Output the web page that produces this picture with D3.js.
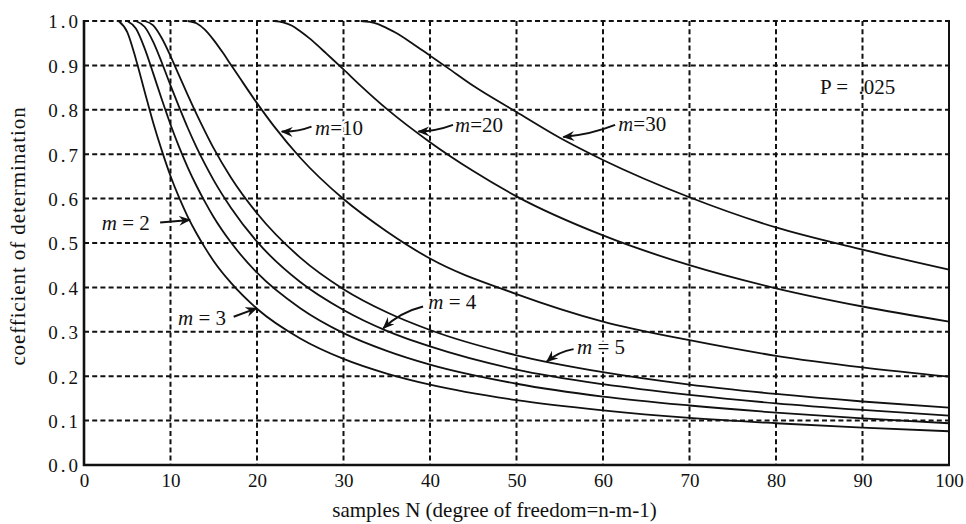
<!DOCTYPE html>
<html><head><meta charset="utf-8">
<script src="https://cdn.jsdelivr.net/npm/d3@7/dist/d3.min.js"></script>
<style>
html,body{margin:0;padding:0;background:#fff;}
svg{display:block;}
text{font-family:"Liberation Serif","DejaVu Serif",serif;fill:#111;}
</style></head>
<body>
<svg id="chart" width="966" height="524"></svg>
<script>
// ---- data ----
const xTicks = [0,10,20,30,40,50,60,70,80,90,100];
const yTicks = [0,0.1,0.2,0.3,0.4,0.5,0.6,0.7,0.8,0.9,1.0];

const n_m2 = [4,5,6,7,8,9,10,11,12,13,14,15,17,20,25,30,35,40,50,60,70,80,90,100];
const r_m2 = [1.0,0.975,0.914,0.842,0.771,0.708,0.651,0.602,0.559,0.522,0.489,0.459,0.410,0.352,0.285,0.239,0.206,0.181,0.146,0.123,0.106,0.094,0.084,0.076];

const n_m3 = [5,6,7,8,9,10,11,12,13,14,15,17,20,25,30,35,40,50,60,70,80,90,100];
const r_m3 = [1.0,0.983,0.939,0.882,0.823,0.767,0.716,0.670,0.629,0.592,0.558,0.501,0.433,0.353,0.297,0.257,0.226,0.183,0.154,0.134,0.118,0.105,0.094];

const n_m4 = [6,7,8,9,10,11,12,13,14,15,17,20,25,30,35,40,50,60,70,80,90,100];
const r_m4 = [1.0,0.987,0.953,0.906,0.855,0.806,0.759,0.716,0.677,0.641,0.579,0.503,0.412,0.349,0.302,0.267,0.215,0.182,0.158,0.139,0.124,0.111];

const n_m5 = [7,8,9,10,11,12,13,14,15,17,20,25,30,35,40,50,60,70,80,90,100];
const r_m5 = [1.0,0.990,0.961,0.921,0.877,0.833,0.791,0.751,0.713,0.647,0.567,0.467,0.396,0.344,0.304,0.247,0.209,0.181,0.160,0.143,0.129];

const n_m10 = [12,13,14,15,16,17,18,20,22,25,30,35,40,50,60,70,80,90,100];
const r_m10 = [1.0,0.995,0.980,0.957,0.930,0.901,0.872,0.815,0.762,0.692,0.599,0.526,0.465,0.385,0.323,0.281,0.246,0.220,0.199];

const n_m20 = [22,23,24,25,26,27,28,30,32,35,40,45,50,60,70,80,90,100];
const r_m20 = [1.0,0.997,0.990,0.977,0.962,0.945,0.927,0.891,0.854,0.802,0.727,0.662,0.605,0.517,0.450,0.398,0.357,0.323];

const n_m30 = [32,33,34,35,36,38,40,42,45,50,55,60,70,80,90,100];
const r_m30 = [1.0,0.998,0.993,0.984,0.974,0.949,0.922,0.895,0.854,0.795,0.737,0.687,0.603,0.535,0.485,0.440];

const series = [
  {m:"2", n:n_m2, r:r_m2},
  {m:"3", n:n_m3, r:r_m3},
  {m:"4", n:n_m4, r:r_m4},
  {m:"5", n:n_m5, r:r_m5},
  {m:"10", n:n_m10, r:r_m10},
  {m:"20", n:n_m20, r:r_m20},
  {m:"30", n:n_m30, r:r_m30}
];

// annotation labels (text value) and their placement in data units
const labelText = ["2","3","4","5","10","20","30"];
const labelSpaced = [true,true,true,true,false,false,false];
const annot = [
  {tx:2.05, ty:0.529, ax:8.8,  ay:0.546, bx:12.25, by:0.552, bend:0},
  {tx:10.87,ty:0.316, ax:17.3, ay:0.334, bx:19.97, by:0.353, bend:0},
  {tx:39.8, ty:0.351, ax:39.2, ay:0.357, bx:34.6,  by:0.308, bend:6},
  {tx:57.0, ty:0.249, ax:56.6, ay:0.261, bx:53.5,  by:0.233, bend:4},
  {tx:26.7, ty:0.744, ax:26.3, ay:0.762, bx:22.86, by:0.751, bend:-3},
  {tx:42.9, ty:0.750, ax:42.66,ay:0.766, bx:38.65, by:0.751, bend:-3},
  {tx:61.75,ty:0.752, ax:61.4, ay:0.766, bx:55.41, by:0.739, bend:-4}
];

// ---- layout ----
const svg = d3.select("#chart");
const L = 84, R = 949, T = 21, B = 465;
const x = d3.scaleLinear().domain([0,100]).range([L,R]);
const y = d3.scaleLinear().domain([0,1]).range([B,T]);

// grid
const grid = svg.append("g").attr("stroke","#111").attr("stroke-width",2).attr("stroke-dasharray","5,3.2");
grid.selectAll("line.v").data(xTicks.filter(d=>d>0 && d<100)).enter().append("line")
  .attr("x1",d=>x(d)).attr("x2",d=>x(d)).attr("y1",T).attr("y2",B);
grid.selectAll("line.h").data(yTicks.filter(d=>d>0)).enter().append("line")
  .attr("x1",L).attr("x2",R).attr("y1",d=>y(d)).attr("y2",d=>y(d));

// frame (left, bottom, right solid)
svg.append("line").attr("x1",L).attr("x2",L).attr("y1",T-1).attr("y2",B+1).attr("stroke","#111").attr("stroke-width",2.6);
svg.append("line").attr("x1",L-1).attr("x2",R+1).attr("y1",B).attr("y2",B).attr("stroke","#111").attr("stroke-width",2.6);
svg.append("line").attr("x1",R).attr("x2",R).attr("y1",T-1).attr("y2",B+1).attr("stroke","#111").attr("stroke-width",2);

// axes labels via d3 axes
const xAxis = svg.append("g").attr("transform",`translate(0,${B})`)
  .call(d3.axisBottom(x).tickValues(xTicks).tickSize(0).tickPadding(9).tickFormat(d3.format("d")));
xAxis.select(".domain").remove();
xAxis.selectAll("text").attr("font-size",19).attr("font-family","Liberation Serif").attr("fill","#111");

const yAxis = svg.append("g").attr("transform",`translate(${L},0)`)
  .call(d3.axisLeft(y).tickValues(yTicks).tickSize(0).tickPadding(3).tickFormat(d3.format(".1f")));
yAxis.select(".domain").remove();
yAxis.selectAll("text").attr("font-size",19).attr("font-family","Liberation Serif")
  .attr("fill","#111").style("letter-spacing","3px").attr("dy","0.36em");

// curves
const line = d3.line().x(d=>x(d[0])).y(d=>y(d[1])).curve(d3.curveMonotoneX);
svg.append("g").selectAll("path").data(series).enter().append("path")
  .attr("d",s=>line(s.n.map((v,i)=>[v,s.r[i]])))
  .attr("fill","none").attr("stroke","#111").attr("stroke-width",1.8).attr("stroke-linejoin","round");

// arrow marker
svg.append("defs").append("marker").attr("id","ah").attr("viewBox","0 0 12 10")
  .attr("refX",11).attr("refY",5).attr("markerWidth",12).attr("markerHeight",10)
  .attr("markerUnits","userSpaceOnUse").attr("orient","auto")
  .append("path").attr("d","M0,0 L12,5 L0,10 L4,5 Z").attr("fill","#111");

// annotations
const ag = svg.append("g");
annot.forEach((a,i)=>{
  const x1=x(a.ax), y1=y(a.ay), x2=x(a.bx), y2=y(a.by);
  const mx=(x1+x2)/2, my=(y1+y2)/2;
  const dx=x2-x1, dy=y2-y1, len=Math.hypot(dx,dy);
  const cx=mx - dy/len*a.bend, cy=my + dx/len*a.bend;
  const t = ag.append("text").attr("x",x(a.tx)).attr("y",y(a.ty)).attr("font-size",21)
    .attr("stroke","#fff").attr("stroke-width",5).attr("stroke-linejoin","round").style("paint-order","stroke");
  t.append("tspan").attr("font-style","italic").text("m");
  t.append("tspan").text(labelSpaced[i] ? " = " + labelText[i] : "=" + labelText[i]);
  ag.append("path").attr("d",`M${x1},${y1} Q${cx},${cy} ${x2},${y2}`)
    .attr("fill","none").attr("stroke","#111").attr("stroke-width",2).attr("marker-end","url(#ah)");
});

// P label
svg.append("text").attr("x",x(85.1)).attr("y",y(0.836)).attr("font-size",21).attr("xml:space","preserve")
  .style("white-space","pre").text("P =  .025");

// axis titles
svg.append("text").attr("x",(L+R)/2 - 22).attr("y",517).attr("text-anchor","middle").attr("font-size",21)
  .text("samples N (degree of freedom=n-m-1)");
svg.append("text").attr("transform",`translate(25,${(102+370)/2}) rotate(-90)`).attr("text-anchor","middle")
  .attr("font-size",21).style("letter-spacing","0.9px").text("coefficient of determination");
</script>
</body></html>
